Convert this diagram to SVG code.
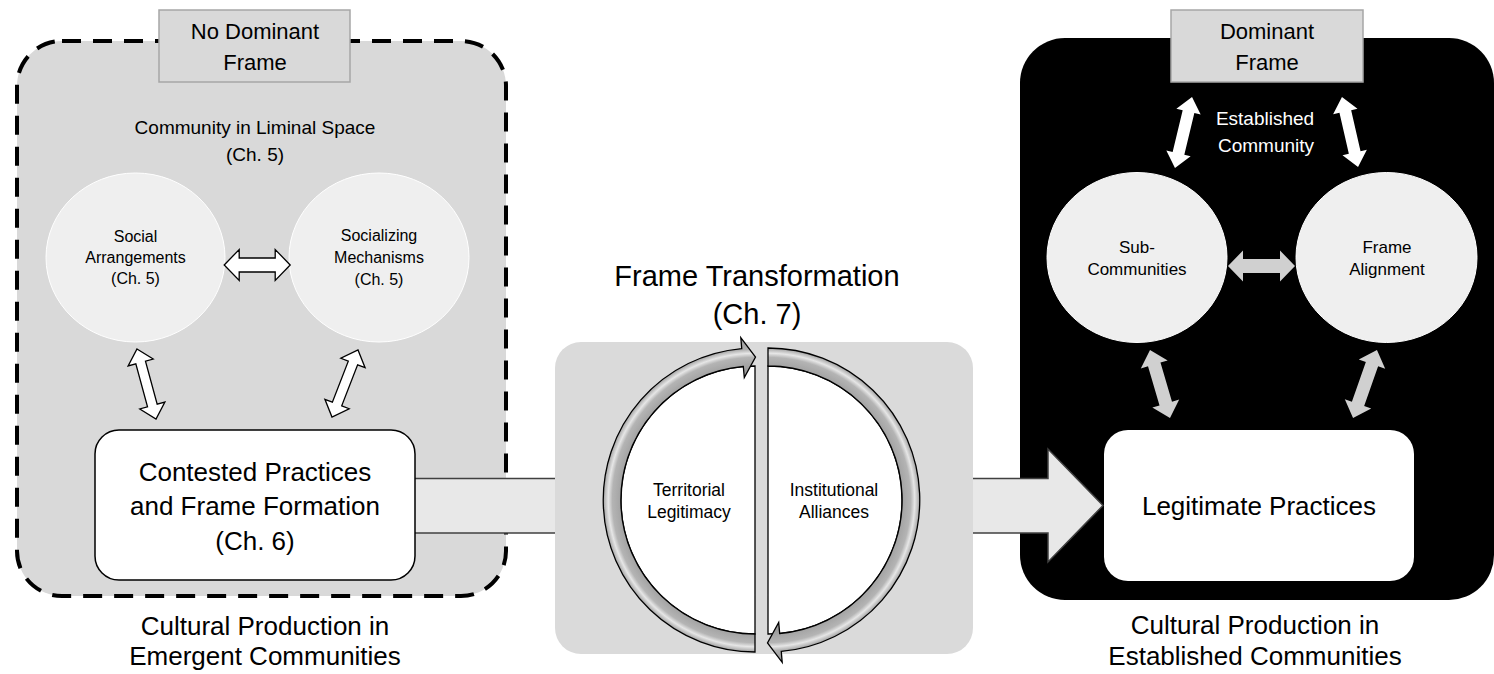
<svg xmlns="http://www.w3.org/2000/svg" width="1494" height="674" viewBox="0 0 1494 674">
<style>
text{font-family:"Liberation Sans",Arial,sans-serif;text-anchor:middle;fill:#000}
.big{font-size:26px}
.frm{font-size:22px}
.circ{font-size:16px}
.ring{font-size:17.5px}
.wt{fill:#fff;font-size:19px}
.outA{fill:#fff;stroke:#000;stroke-width:1.3}
.gA{fill:#d0d0d0}
.wA{fill:#fff}
.lc{fill:#efefef;stroke:#fff;stroke-width:1}
.fb{fill:#d9d9d9;stroke:#a6a6a6;stroke-width:1.5}
</style>
<defs>
<radialGradient id="gl" gradientUnits="userSpaceOnUse" cx="755" cy="500" r="163">
<stop offset="0.8" stop-color="#9c9c9c"/>
<stop offset="0.875" stop-color="#b4b4b4"/>
<stop offset="0.9" stop-color="#e6e6e6"/>
<stop offset="0.925" stop-color="#b0b0b0"/>
<stop offset="1" stop-color="#959595"/>
</radialGradient>
<radialGradient id="gr" gradientUnits="userSpaceOnUse" cx="768" cy="500" r="163">
<stop offset="0.8" stop-color="#9c9c9c"/>
<stop offset="0.875" stop-color="#b4b4b4"/>
<stop offset="0.9" stop-color="#e6e6e6"/>
<stop offset="0.925" stop-color="#b0b0b0"/>
<stop offset="1" stop-color="#959595"/>
</radialGradient>
</defs>

<g id="emergent-container">
<rect x="17" y="41" width="489" height="555" rx="45" fill="#d9d9d9"/>
<rect x="17" y="41" width="489" height="555" rx="45" fill="none" stroke="#000" stroke-width="4" stroke-dasharray="19 12"/>
</g>

<g id="established-container">
<rect x="1020" y="38" width="474" height="562" rx="45" fill="#000"/>
</g>

<g id="connectors">
<path id="flow-arrow" d="M400,478.5 L1048,478.5 L1048,449 L1103,505.5 L1048,562 L1048,533 L400,533 Z" fill="#e8e8e8" stroke="#404040" stroke-width="1.5"/>
</g>

<g id="frame-transformation">
<rect x="555" y="342" width="418" height="312" rx="26" fill="#dadada"/>
<text x="757" y="286" style="font-size:29px">Frame Transformation</text>
<text x="757" y="324" style="font-size:29px">(Ch. 7)</text>
<g id="territorial-legitimacy">
<path d="M755,366 A134,134 0 0 0 755,634 Z" fill="#fff" stroke="#000" stroke-width="1.3"/>
<path d="M755,652 A152,152 0 0 1 741.75,348.6 L740.8,337.6 L755.5,357 L744.3,377.5 L743.3,366.5 A134,134 0 0 0 755,634 Z" fill="url(#gl)" stroke="#000" stroke-width="1.3" stroke-linejoin="miter"/>
<text class="ring" x="689" y="496">Territorial</text>
<text class="ring" x="689" y="518">Legitimacy</text>
</g>
<g id="institutional-alliances">
<path d="M768,366 A134,134 0 0 1 768,634 Z" fill="#fff" stroke="#000" stroke-width="1.3"/>
<path d="M768,348 A152,152 0 0 1 781.25,651.4 L782.2,662.4 L767.5,643 L778.7,622.5 L779.7,633.5 A134,134 0 0 0 768,366 Z" fill="url(#gr)" stroke="#000" stroke-width="1.3"/>
<text class="ring" x="834" y="496">Institutional</text>
<text class="ring" x="834" y="518">Alliances</text>
</g>
</g>

<g id="no-dominant-frame">
<rect class="fb" x="159" y="10" width="191" height="72"/>
<text class="frm" x="255" y="39">No Dominant</text>
<text class="frm" x="255" y="70">Frame</text>
</g>

<g id="liminal-label">
<text x="255" y="134" style="font-size:19px">Community in Liminal Space</text>
<text x="255" y="161" style="font-size:19px">(Ch. 5)</text>
</g>

<g id="social-arrangements">
<ellipse class="lc" cx="135.5" cy="257.5" rx="89.5" ry="84.5"/>
<text class="circ" x="135.5" y="242">Social</text>
<text class="circ" x="135.5" y="263">Arrangements</text>
<text class="circ" x="135.5" y="284">(Ch. 5)</text>
</g>

<g id="socializing-mechanisms">
<ellipse class="lc" cx="379" cy="257.5" rx="90" ry="84.5"/>
<text class="circ" x="379" y="241">Socializing</text>
<text class="circ" x="379" y="263">Mechanisms</text>
<text class="circ" x="379" y="285">(Ch. 5)</text>
</g>

<g id="contested-practices">
<rect x="95" y="430" width="320" height="150" rx="24" fill="#fff" stroke="#000" stroke-width="1.5"/>
<text class="big" x="255" y="481">Contested Practices</text>
<text class="big" x="255" y="515">and Frame Formation</text>
<text class="big" x="255" y="550">(Ch. 6)</text>
</g>

<g id="emergent-label">
<text class="big" x="265" y="635">Cultural Production in</text>
<text class="big" x="265" y="665">Emergent Communities</text>
</g>

<g id="dominant-frame">
<rect class="fb" x="1171" y="10" width="192" height="72"/>
<text class="frm" x="1267" y="39">Dominant</text>
<text class="frm" x="1267" y="70">Frame</text>
</g>

<g id="established-community-label">
<text class="wt" x="1265" y="125">Established</text>
<text class="wt" x="1266" y="152">Community</text>
</g>

<g id="sub-communities">
<ellipse class="lc" cx="1137" cy="257.5" rx="90" ry="85"/>
<text x="1137" y="253" style="font-size:17px">Sub-</text>
<text x="1137" y="275" style="font-size:17px">Communities</text>
</g>

<g id="frame-alignment">
<ellipse class="lc" cx="1386.5" cy="257.5" rx="90.5" ry="85"/>
<text x="1387" y="253" style="font-size:17px">Frame</text>
<text x="1387" y="275" style="font-size:17px">Alignment</text>
</g>

<g id="legitimate-practices">
<rect x="1104" y="430" width="310" height="151" rx="24" fill="#fff"/>
<text class="big" x="1259" y="515">Legitimate Practices</text>
</g>

<g id="established-label">
<text class="big" x="1255" y="634">Cultural Production in</text>
<text class="big" x="1255" y="665">Established Communities</text>
</g>

<g id="relation-arrows">
<path class="outA" transform="translate(257.2,265)" d="M-33,0 L-18,-15.5 L-18,-7 L18,-7 L18,-15.5 L33,0 L18,15.5 L18,7 L-18,7 L-18,15.5 Z"/>
<path class="outA" transform="translate(146.5,384) rotate(74.8)" d="M-36.3,0 L-22.3,-13 L-22.3,-5 L22.3,-5 L22.3,-13 L36.3,0 L22.3,13 L22.3,5 L-22.3,5 L-22.3,13 Z"/>
<path class="outA" transform="translate(345,383.5) rotate(111.2)" d="M-36,0 L-22,-13 L-22,-5 L22,-5 L22,-13 L36,0 L22,13 L22,5 L-22,5 L-22,13 Z"/>
<path class="wA" transform="translate(1183.5,132.5) rotate(103.5)" d="M-36.5,0 L-21.5,-12.5 L-21.5,-6 L21.5,-6 L21.5,-12.5 L36.5,0 L21.5,12.5 L21.5,6 L-21.5,6 L-21.5,12.5 Z"/>
<path class="wA" transform="translate(1350,132) rotate(77.1)" d="M-36,0 L-21,-12.5 L-21,-6 L21,-6 L21,-12.5 L36,0 L21,12.5 L21,6 L-21,6 L-21,12.5 Z"/>
<path class="gA" transform="translate(1261.5,266)" d="M-33.5,0 L-18.5,-15.5 L-18.5,-7 L18.5,-7 L18.5,-15.5 L33.5,0 L18.5,15.5 L18.5,7 L-18.5,7 L-18.5,15.5 Z"/>
<path class="gA" transform="translate(1160,384) rotate(73.6)" d="M-35.4,0 L-20.4,-14 L-20.4,-6.5 L20.4,-6.5 L20.4,-14 L35.4,0 L20.4,14 L20.4,6.5 L-20.4,6.5 L-20.4,14 Z"/>
<path class="gA" transform="translate(1365,384) rotate(109.4)" d="M-36,0 L-21,-14 L-21,-6.5 L21,-6.5 L21,-14 L36,0 L21,14 L21,6.5 L-21,6.5 L-21,14 Z"/>
</g>
</svg>
